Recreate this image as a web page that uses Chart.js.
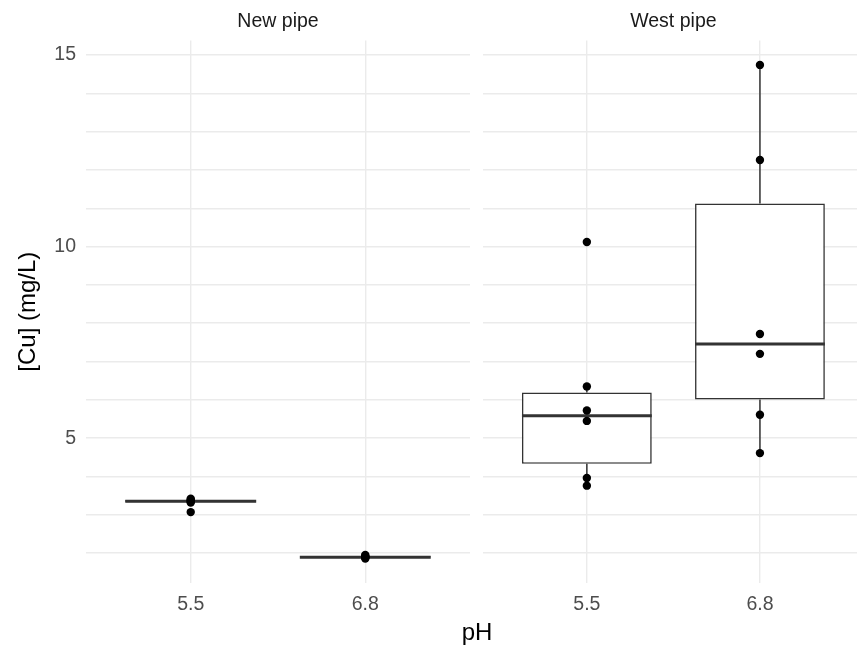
<!DOCTYPE html>
<html>
<head>
<meta charset="utf-8">
<script src="https://cdn.jsdelivr.net/npm/chart.js@4/dist/chart.umd.min.js"></script>
<style>
  html, body { margin: 0; padding: 0; background: #fff; overflow: hidden; }
  #wrap { position: relative; width: 857px; height: 645px; overflow: hidden; }
  #wrap canvas { position: absolute; top: 0; }
  #x-title {
    position: absolute; top: 620px; left: 377px; width: 200px;
    text-align: center; font: 24px "Liberation Sans", Arial, sans-serif;
    line-height: 24px; color: #000;
  }
</style>
</head>
<body>
<div id="wrap">
  <canvas id="panel-new" width="476" height="645" style="left:0"></canvas>
  <canvas id="panel-west" width="392" height="645" style="left:476px"></canvas>
  <div id="x-title">pH</div>
</div>
<script>
(function () {
  "use strict";
  // copper concentration (mg/L) per pipe and pH level
  var phLevels = ["5.5", "6.8"];
  var newPipe55 = [3.07, 3.32, 3.34, 3.37, 3.39, 3.42];
  var newPipe68 = [1.86, 1.88, 1.89, 1.90, 1.92, 1.95];
  var westPipe55 = [3.76, 3.96, 5.45, 5.72, 6.35, 10.12];
  var westPipe68 = [4.61, 5.61, 7.20, 7.72, 12.26, 14.74];

  var FONT = "'Liberation Sans', Arial, Helvetica, sans-serif";
  var GRID = "#ebebeb";
  var INK = "#333333";
  var BOX_WIDTH = 0.75;

  // R type-7 quantile
  function quantile(sorted, p) {
    var h = (sorted.length - 1) * p;
    var lo = Math.floor(h);
    var hi = Math.min(lo + 1, sorted.length - 1);
    return sorted[lo] + (h - lo) * (sorted[hi] - sorted[lo]);
  }

  function boxStats(vals) {
    var s = vals.slice().sort(function (a, b) { return a - b; });
    var q1 = quantile(s, 0.25), q3 = quantile(s, 0.75);
    var iqr = q3 - q1;
    var inside = s.filter(function (v) { return v >= q1 - 1.5 * iqr && v <= q3 + 1.5 * iqr; });
    return {
      q1: q1, med: quantile(s, 0.5), q3: q3,
      lo: inside[0], hi: inside[inside.length - 1],
    };
  }

  function panelDatasets(groups) {
    var stats = groups.map(boxStats);
    var whiskers = [], medians = [], points = [];
    stats.forEach(function (s, i) {
      var x = i + 1;
      whiskers.push({ x: x, y: s.q3 }, { x: x, y: s.hi }, { x: x, y: null },
                    { x: x, y: s.q1 }, { x: x, y: s.lo }, { x: x, y: null });
      medians.push({ x: x - BOX_WIDTH / 2, y: s.med }, { x: x + BOX_WIDTH / 2, y: s.med },
                   { x: x + 0.5, y: null });
      groups[i].forEach(function (v) { points.push({ x: x, y: v }); });
    });
    return [
      {
        type: "bar",
        data: stats.map(function (s, i) { return { x: i + 1, y: [s.q1, s.q3] }; }),
        backgroundColor: "#ffffff",
        borderColor: INK,
        borderWidth: 1.6,
        borderSkipped: false,
        barPercentage: BOX_WIDTH,
        categoryPercentage: 1,
        order: 3,
      },
      {
        data: whiskers, showLine: true, spanGaps: false,
        borderColor: INK, borderWidth: 1.5, pointRadius: 0, order: 2,
      },
      {
        data: medians, showLine: true, spanGaps: false,
        borderColor: INK, borderWidth: 3, pointRadius: 0, order: 1,
      },
      {
        data: points, pointRadius: 4.2, pointBackgroundColor: "#000",
        pointBorderWidth: 0, order: 0,
      },
    ];
  }

  function makePanel(canvasId, label, groups, withAxis) {
    new Chart(document.getElementById(canvasId), {
      type: "scatter",
      data: { datasets: panelDatasets(groups) },
      options: {
        responsive: false,
        animation: false,
        events: [],
        layout: { padding: withAxis ? { left: 0, right: 6, top: 0, bottom: 22 }
                                    : { left: 7, right: 0, top: 0, bottom: 22 } },
        plugins: {
          legend: { display: false },
          tooltip: { enabled: false },
          title: {
            display: true, text: label, fullSize: false,
            color: "#1a1a1a", font: { family: FONT, size: 19.5, weight: "normal" },
            padding: { top: 10, bottom: 7 },
          },
        },
        scales: {
          x: {
            type: "linear", min: 0.4, max: 2.6, offset: false,
            afterBuildTicks: function (scale) {
              scale.ticks = phLevels.map(function (_, i) { return { value: i + 1 }; });
            },
            afterFit: function (scale) { scale.height = 40; },
            ticks: {
              padding: 10, color: "#4d4d4d",
              font: { family: FONT, size: 19.5 },
              callback: function (v, i) { return phLevels[i]; },
            },
            grid: { color: GRID, lineWidth: 1.4, drawTicks: false, offset: false },
            border: { display: false },
          },
          y: {
            min: 1.22, max: 15.38,
            afterFit: function (scale) { scale.width = withAxis ? 86 : 0; },
            ticks: {
              display: withAxis, stepSize: 1, includeBounds: false, padding: 10,
              color: "#4d4d4d", font: { family: FONT, size: 19.5 },
              callback: function (v) { return v % 5 === 0 ? String(v) : ""; },
            },
            title: {
              display: withAxis, text: "[Cu] (mg/L)", color: "#000",
              font: { family: FONT, size: 24 }, padding: { top: 14, bottom: 0 },
            },
            grid: { color: GRID, lineWidth: 1.4, drawTicks: false },
            border: { display: false },
          },
        },
      },
    });
  }

  makePanel("panel-new", "New pipe", [newPipe55, newPipe68], true);
  makePanel("panel-west", "West pipe", [westPipe55, westPipe68], false);
})();
</script>
</body>
</html>
